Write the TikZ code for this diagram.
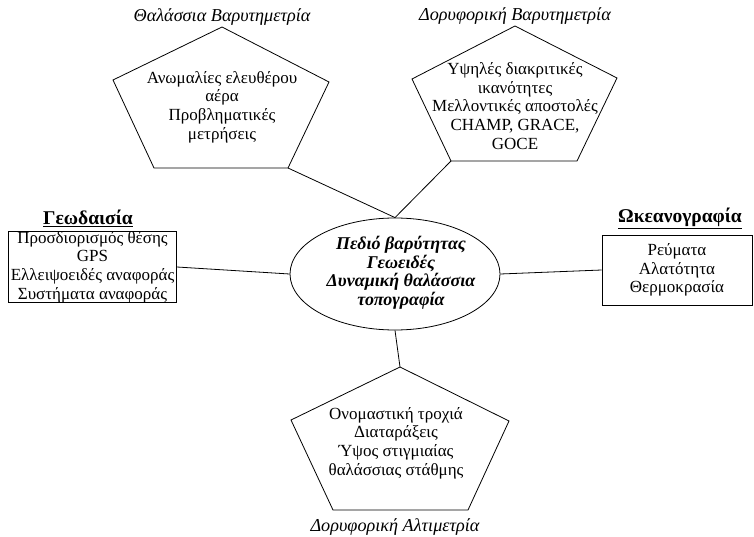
\documentclass[tikz,border=0pt]{standalone}
\usepackage{fontspec}
\setmainfont{Liberation Serif}
\usetikzlibrary{shapes.geometric}
\tikzset{
  base/.style={font=\fontsize{17}{18.6}\selectfont, inner sep=0pt, align=center},
  body/.style={base},
  ttl/.style={base, font=\fontsize{18.2}{20}\selectfont\itshape},
  head/.style={base, font=\fontsize{19.5}{21}\selectfont\bfseries},
  lbox/.style={base, draw, minimum width=#1, minimum height=70},
  hub/.style={base, draw, ellipse, minimum width=210, minimum height=112,
    font=\fontsize{18}{18.5}\selectfont\bfseries\itshape},
  edge/.style={line width=0.8pt}
}
\begin{document}
\begin{tikzpicture}[x=1pt,y=-1pt, line width=0.8pt]
\useasboundingbox (0,0) rectangle (754,537);
% central ellipse
\node[hub] (ell) at (395,274) {};
\node[hub, draw=none, minimum width=0, minimum height=0] (ellT) at (401,273) {Πεδιό βαρύτητας\\Γεωειδές\\Δυναμική θαλάσσια\\τοπογραφία};
% top-left pentagon
\draw (222,27) coordinate (tlA) -- (329,82) coordinate (tlR) -- (288,168) coordinate (tlBR)
  -- (154,168) coordinate (tlBL) -- (113,80) coordinate (tlL) -- cycle;
\node[body] (tlT) at (222,107) {Ανωμαλίες ελευθέρου\\αέρα\\Προβληματικές\\μετρήσεις};
\node[ttl] (tlH) at (222,17) {Θαλάσσια Βαρυτημετρία};
% top-right pentagon
\draw (515,26) coordinate (trA) -- (617,78) coordinate (trR) -- (577,161) coordinate (trBR)
  -- (451,161) coordinate (trBL) -- (412,79) coordinate (trL) -- cycle;
\node[body] (trT) at (515,106) {Υψηλές διακριτικές\\ικανότητες\\Μελλοντικές αποστολές\\CHAMP, GRACE,\\GOCE};
\node[ttl] (trH) at (515,16) {Δορυφορική Βαρυτημετρία};
% bottom pentagon
\draw (400,367) coordinate (btA) -- (509,421) coordinate (btR) -- (468,510) coordinate (btBR)
  -- (333,510) coordinate (btBL) -- (291,420) coordinate (btL) -- cycle;
\node[body] (btT) at (396,443) {Ονομαστική τροχιά\\Διαταράξεις\\Ύψος στιγμιαίας\\θαλάσσιας στάθμης};
\node[ttl] (btH) at (395,527) {Δορυφορική Αλτιμετρία};
% geodesy box
\node[lbox=168] (geo) at (92.5,267) {Προσδιορισμός θέσης\\GPS\\Ελλειψοειδές αναφοράς\\Συστήματα αναφοράς};
\node[head] (geoH) at (88,218) {\underline{Γεωδαισία}};
% oceanography box
\node[lbox=150] (oce) at (677,270) {Ρεύματα\\Αλατότητα\\Θερμοκρασία};
\node[head] (oceH) at (680,218) {\underline{Ωκεανογραφία}};
% connectors
\draw[edge] (tlBR) -- (ell.north);
\draw[edge] (trBL) -- (ell.north);
\draw[edge] (geo.east) -- (ell.west);
\draw[edge] (ell.east) -- (oce.west);
\draw[edge] (ell.south) -- (btA);
\end{tikzpicture}
\end{document}
